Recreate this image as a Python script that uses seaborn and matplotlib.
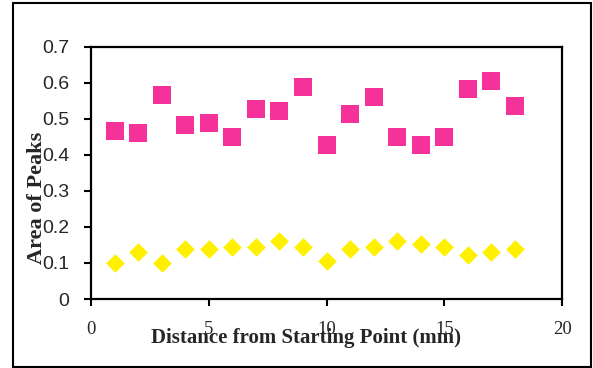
import matplotlib
matplotlib.use("Agg")
import matplotlib.pyplot as plt
import seaborn as sns
import pandas as pd
from matplotlib.patches import Rectangle

# Data
distance = [1, 2, 3, 4, 5, 6, 7, 8, 9, 10, 11, 12, 13, 14, 15, 16, 17, 18]
peak_a = [0.468, 0.460, 0.568, 0.482, 0.490, 0.451, 0.529, 0.521, 0.590,
          0.429, 0.514, 0.560, 0.451, 0.429, 0.451, 0.583, 0.605, 0.537]
peak_b = [0.100, 0.130, 0.100, 0.138, 0.140, 0.145, 0.145, 0.160, 0.145,
          0.105, 0.140, 0.145, 0.160, 0.153, 0.145, 0.122, 0.130, 0.140]
x_ticks = [0, 5, 10, 15, 20]
y_ticks = [0, 0.1, 0.2, 0.3, 0.4, 0.5, 0.6, 0.7]

sns.set_style("white")
plt.rcParams['font.family'] = ['Liberation Serif', 'DejaVu Serif']

fig = plt.figure(figsize=(5.93, 3.68), dpi=100)
ax = fig.add_axes([0.1535, 0.1875, 0.7945, 0.6848])

df_a = pd.DataFrame({"x": distance, "y": peak_a})
df_b = pd.DataFrame({"x": distance, "y": peak_b})
sns.scatterplot(data=df_a, x="x", y="y", marker="s", s=165, color="#F5319A",
                linewidth=0, ax=ax, zorder=3)
sns.scatterplot(data=df_b, x="x", y="y", marker="D", s=90, color="#FFF000",
                linewidth=0, ax=ax, zorder=3)

ax.set_xlim(0, 20)
ax.set_ylim(0, 0.7)
ax.set_xticks(x_ticks)
ax.set_yticks(y_ticks)
ax.set_xticklabels([str(v) for v in x_ticks])
ax.set_yticklabels(["0" if v == 0 else f"{v:.1f}" for v in y_ticks])

for sp in ax.spines.values():
    sp.set_visible(True)
    sp.set_color("black")
    sp.set_linewidth(1.6)

ax.tick_params(axis="both", direction="out", length=5, width=1.5, color="black",
               left=True, bottom=True)
ax.tick_params(axis="x", pad=11, labelsize=13.5, labelfontfamily="Liberation Serif")
ax.tick_params(axis="y", pad=10.5, labelsize=14, labelfontfamily="Liberation Sans")

ax.set_xlabel("Distance from Starting Point (mm)", fontweight="bold", fontsize=15,
              fontfamily="Liberation Serif")
ax.set_ylabel("Area of Peaks", fontweight="bold", fontsize=16,
              fontfamily="Liberation Serif")
ax.xaxis.set_label_coords(0.456, -0.115)
ax.yaxis.set_label_coords(-0.093, 0.40)

# outer frame
fig.patches.append(Rectangle((13 / 593, 1 / 368), 578 / 593, 364 / 368,
                             transform=fig.transFigure, fill=False,
                             edgecolor="black", linewidth=1.5, zorder=0))

fig.savefig("out.png", dpi=100)
